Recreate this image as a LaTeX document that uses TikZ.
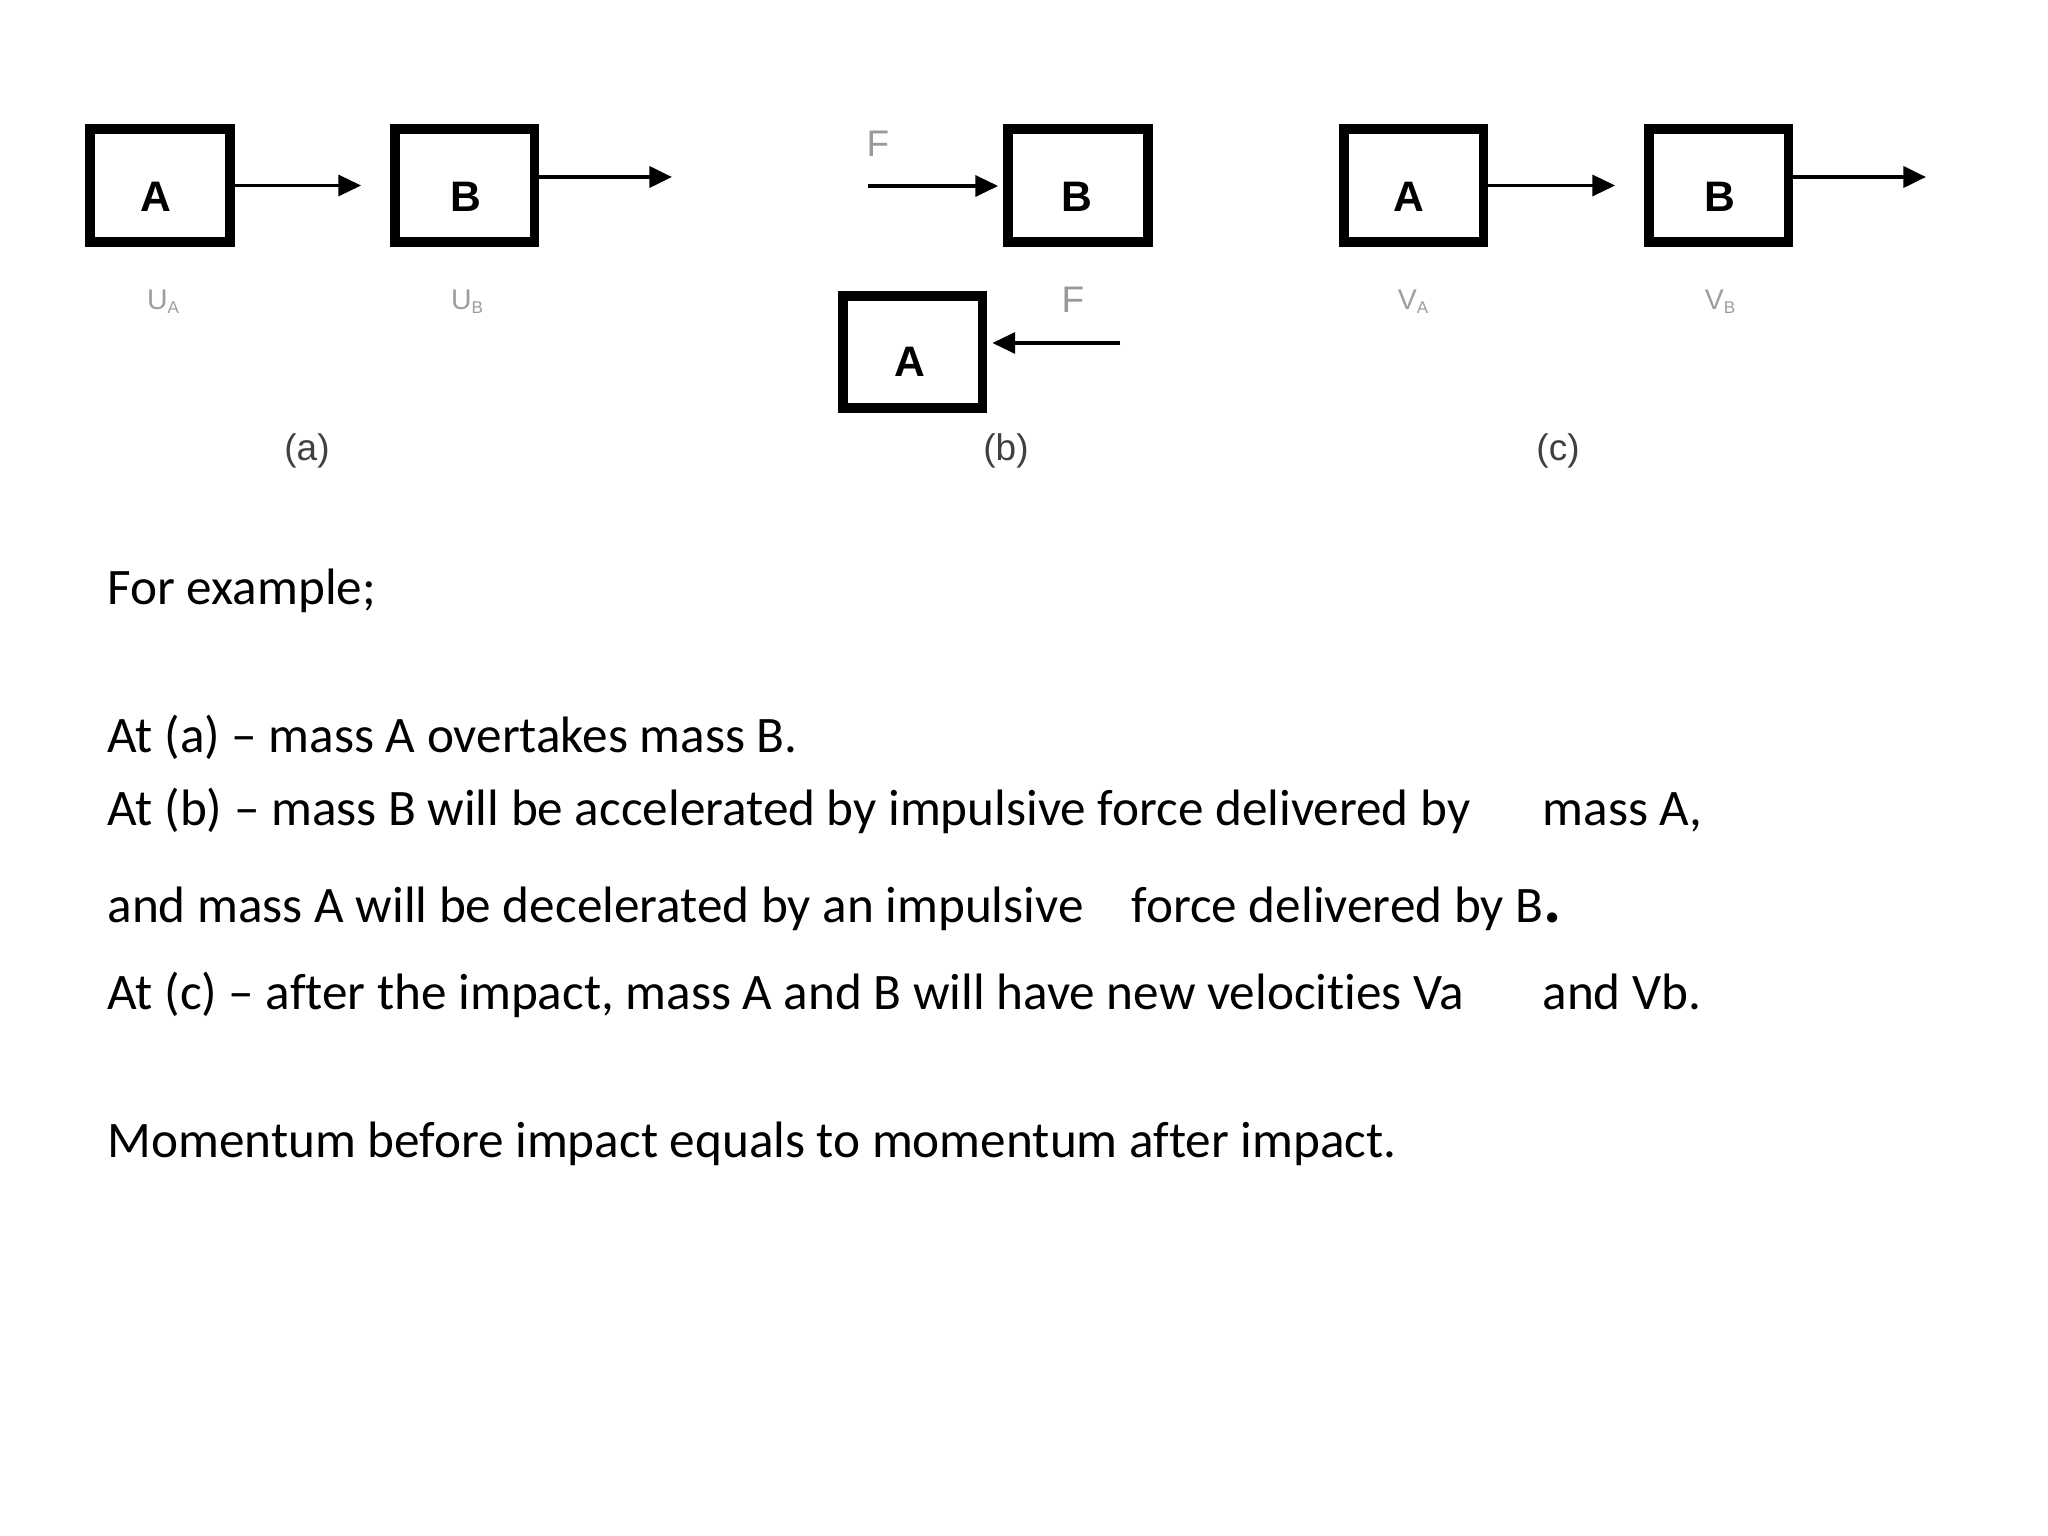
\documentclass[tikz,border=0pt]{standalone}
\usepackage{fontspec}
\setmainfont{Carlito}[Ligatures={TeX,NoCommon}]
\newfontfamily\diagfont{Liberation Sans}
\usetikzlibrary{arrows.meta}
\begin{document}
\begin{tikzpicture}[x=0.3515625pt,y=-0.3515625pt,
  massbox/.style={draw=black,line width=3.5pt,rectangle,inner sep=0pt,minimum width=49.2pt,minimum height=39.7pt,fill=white},
  letter/.style={font=\diagfont\bfseries\fontsize{15}{15}\selectfont,inner sep=0pt},
  vel/.style={font=\diagfont\fontsize{10}{10}\selectfont,text=black!38,inner sep=0pt},
  forcelab/.style={font=\diagfont\fontsize{13}{13}\selectfont,text=black!40,inner sep=0pt},
  sublab/.style={font=\diagfont\fontsize{13}{13}\selectfont,text=black!75,inner sep=0pt},
  arr/.style={line width=1.1pt,-{Triangle[length=8pt,width=7.4pt]}},
  arrout/.style={line width=1.4pt,-{Triangle[length=8pt,width=7.4pt]}},
  bodytext/.style={font=\fontsize{18}{21}\selectfont,anchor=base west,inner sep=0pt}
]
\fill[white] (0,0) rectangle (2048,1536);
\useasboundingbox (0,0) rectangle (2048,1536);

% ---------- (a)
\node[massbox] (Aa) at (160,185.5) {};
\node[massbox] (Ba) at (464.5,185.5) {};
\node[letter] (Aalab) at (156,197) {A};
\node[letter] (Balab) at (466,197) {B};
\coordinate (Baout) at (672,177);
\draw[arr,shorten >=10pt] (Aa.east) -- (Ba.west);
\draw[arrout] (Ba.east |- Baout) -- (Baout);
\node[vel] (ua) at (163,302) {U\raisebox{-1.5pt}{\fontsize{6}{6}\selectfont A}};
\node[vel] (ub) at (467,302) {U\raisebox{-1.5pt}{\fontsize{6}{6}\selectfont B}};
\node[sublab] (capa) at (307,451) {(a)};

% ---------- (b)
\node[massbox] (Bb) at (1078,185.5) {};
\node[massbox] (Ab) at (912.5,352) {};
\node[letter] (Bblab) at (1077,197) {B};
\node[letter] (Ablab) at (910,362) {A};
\coordinate (Fbin) at (868,186);
\coordinate (Fain) at (1120,343);
\draw[arr,shorten >=1.75pt] (Fbin) -- (Bb.west |- Fbin);
\draw[arr,shorten >=1.75pt] (Fain) -- (Ab.east |- Fain);
\node[forcelab] (F1) at (878,144) {F};
\node[forcelab] (F2) at (1073,300) {F};
\node[sublab] (capb) at (1006,451) {(b)};

% ---------- (c)
\node[massbox] (Ac) at (1413.5,185.5) {};
\node[massbox] (Bc) at (1718.5,185.5) {};
\node[letter] (Aclab) at (1409,197) {A};
\node[letter] (Bclab) at (1720,197) {B};
\coordinate (Bcout) at (1926,177);
\draw[arr,shorten >=10pt] (Ac.east) -- (Bc.west);
\draw[arrout] (Bc.east |- Bcout) -- (Bcout);
\node[vel] (va) at (1413,302) {V\raisebox{-1.5pt}{\fontsize{6}{6}\selectfont A}};
\node[vel] (vb) at (1720,302) {V\raisebox{-1.5pt}{\fontsize{6}{6}\selectfont B}};
\node[sublab] (capc) at (1558,451) {(c)};

% ---------- text
\node[bodytext] (t1) at (107,605) {For example;};
\node[bodytext] (t2) at (107,752) {At (a) – mass A overtakes mass B.};
\node[bodytext] (t3) at (107,825) {At (b) – mass B will be accelerated by impulsive force delivered by};
\node[bodytext] (t3b) at (1542,825) {mass A,};
\node[bodytext] (t4) at (107,922) {and mass A will be decelerated by an impulsive};
\node[bodytext] (t4b) at (1131,922) {force delivered by B{\bfseries\fontsize{24}{24}\selectfont .}};
\node[bodytext] (t5) at (107,1009) {At (c) – after the impact, mass A and B will have new velocities Va};
\node[bodytext] (t5b) at (1542,1009) {and Vb.};
\node[bodytext] (t6) at (107,1157) {Momentum before impact equals to momentum after impact.};
\end{tikzpicture}
\end{document}
